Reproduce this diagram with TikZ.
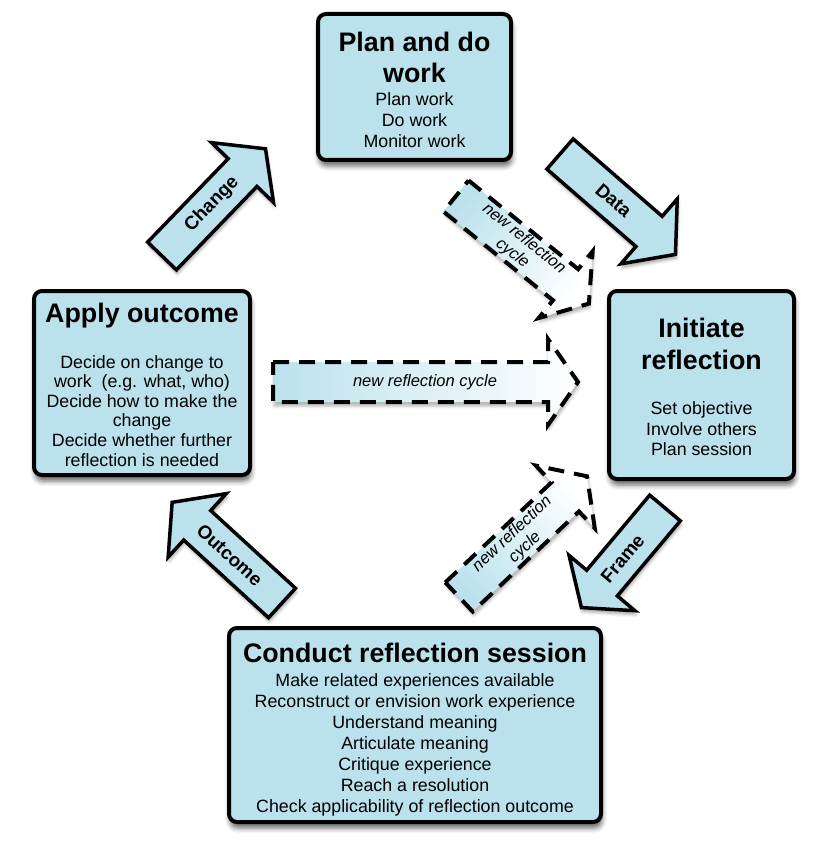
\documentclass[tikz,border=0pt]{standalone}
\usepackage{fontspec}
\setmainfont{Liberation Sans}
\usetikzlibrary{shadows.blur}
\definecolor{boxblue}{RGB}{187,226,236}
\tikzset{
  box/.style={draw=black, line width=4pt, rounded corners=8pt, fill=boxblue, inner sep=0pt,
    blur shadow={shadow xshift=1pt, shadow yshift=-6pt, shadow blur radius=5pt, shadow opacity=60}},
  ttl/.style={font=\fontsize{26.8}{31}\selectfont\bfseries, anchor=base, inner sep=0pt},
  itm/.style={font=\fontsize{17.8}{21}\selectfont, anchor=base, inner sep=0pt},
  solidarrow/.style={draw=black, line width=3.5pt, line join=miter, fill=boxblue,
    blur shadow={shadow xshift=1pt, shadow yshift=-4pt, shadow blur radius=3pt, shadow opacity=35}},
  dasharrow/.style={draw=black, line width=4pt, line join=miter, dash pattern=on 16pt off 10pt,
    left color=boxblue, middle color=boxblue!25!white, right color=white, shading angle=#1,
    blur shadow={shadow xshift=1pt, shadow yshift=-4pt, shadow blur radius=3pt, shadow opacity=30}},
  alabel/.style={font=\fontsize{18.8}{20}\selectfont\bfseries, inner sep=0pt},
  dlabel/.style={font=\fontsize{16.5}{18.5}\selectfont\itshape, align=center, inner sep=0pt},
}
% #1 path style, #2 tail centre, #3 angle, #4 length, #5 head length, #6 label distance, #7 label options, #8 label text
\newcommand{\blkarr}[8]{%
  \begin{scope}[shift={#2}, rotate=#3]
    \path[#1] (0,-20) -- ({#4-#5},-20) -- ({#4-#5},-43) -- (#4,0) -- ({#4-#5},43) -- ({#4-#5},20) -- (0,20) -- cycle;
    \node[#7] at (#6,0) {#8};
  \end{scope}}
\begin{document}
\begin{tikzpicture}[x=1pt, y=-1pt]
\useasboundingbox (0,0) rectangle (819,842);

% boxes
\node[box, minimum width=193pt, minimum height=146pt] (plan) at (414.5,87) {};
\node[box, minimum width=216pt, minimum height=184pt] (apply) at (142,383) {};
\node[box, minimum width=185pt, minimum height=188pt] (init) at (701.5,385) {};
\node[box, minimum width=372pt, minimum height=194pt] (conduct) at (415,725) {};

% Plan and do work
\node[ttl] (plant1) at (414.5,52) {Plan and do};
\node[ttl] (plant2) at (414.5,83) {work};
\node[itm] (plani1) at (414.5,106) {Plan work};
\node[itm] (plani2) at (414.5,127) {Do work};
\node[itm] (plani3) at (414.5,148) {Monitor work};

% Apply outcome
\node[ttl] (applyt) at (142,322) {Apply outcome};
\node[itm] (applyi1) at (142,368) {Decide on change to};
\node[itm] (applyi2) at (142,387.6) {work\ \ (e.g. what, who)};
\node[itm] (applyi3) at (142,407.2) {Decide how to make the};
\node[itm] (applyi4) at (142,426.8) {change};
\node[itm] (applyi5) at (142,446.4) {Decide whether further};
\node[itm] (applyi6) at (142,466) {reflection is needed};

% Initiate reflection
\node[ttl] (initt1) at (701.5,337) {Initiate};
\node[ttl] (initt2) at (701.5,369) {reflection};
\node[itm] (initi1) at (701.5,414.5) {Set objective};
\node[itm] (initi2) at (701.5,435) {Involve others};
\node[itm] (initi3) at (701.5,455.5) {Plan session};

% Conduct reflection session
\node[ttl] (condt) at (415,662) {Conduct reflection session};
\node[itm] (condi1) at (415,686) {Make related experiences available};
\node[itm] (condi2) at (415,707) {Reconstruct or envision work experience};
\node[itm] (condi3) at (415,728) {Understand meaning};
\node[itm] (condi4) at (415,749) {Articulate meaning};
\node[itm] (condi5) at (415,770) {Critique experience};
\node[itm] (condi6) at (415,791) {Reach a resolution};
\node[itm] (condi7) at (415,812) {Check applicability of reflection outcome};

% solid block arrows
\blkarr{solidarrow}{(162,256)}{46}{149}{33}{72}{alabel, rotate=46, name=lchange}{Change}
\blkarr{solidarrow}{(560,154)}{-41}{153}{35}{71}{alabel, rotate=-41, name=ldata}{Data}
\blkarr{solidarrow}{(665,508)}{230}{130}{32}{66}{alabel, rotate=50, name=lframe}{Frame}
\blkarr{solidarrow}{(282,603)}{137.5}{149}{34}{71}{alabel, rotate=-42.5, name=loutcome}{Outcome}

% dashed block arrows
\blkarr{dasharrow=90}{(273,382)}{0}{305}{30}{152}{dlabel, rotate=0, name=lnew1}{new reflection cycle}
\blkarr{dasharrow=51}{(456,196)}{-39}{171}{30}{80}{dlabel, rotate=-39, name=lnew2}{new reflection\\cycle}
\blkarr{dasharrow=133.3}{(459,597)}{43.3}{176}{30}{82}{dlabel, rotate=43.3, name=lnew3}{new reflection\\cycle}

\end{tikzpicture}
\end{document}
